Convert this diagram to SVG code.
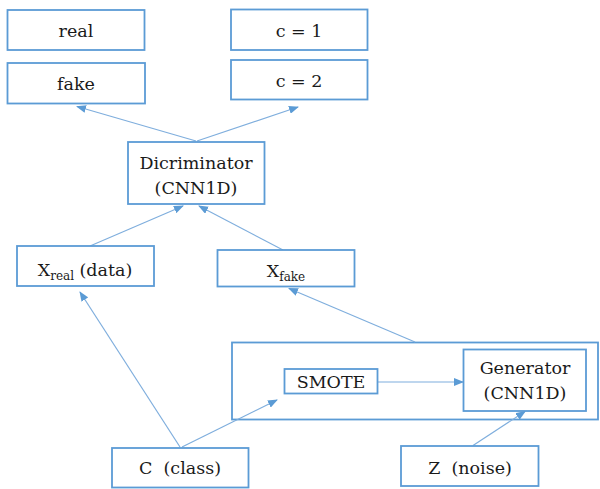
<svg xmlns="http://www.w3.org/2000/svg" width="600" height="489" viewBox="0 0 600 489">
<defs>
<style>
.box{fill:#fff;stroke:#5B9BD5;stroke-width:1.8}
.big{fill:none;stroke:#5B9BD5;stroke-width:1.8}
.t{font-family:'DejaVu Serif',serif;font-size:17.5px;fill:#1a1a1a;text-anchor:middle}
.sub{font-size:12px}
.c{stroke:#7FAEDD;stroke-width:1.2;fill:none;marker-end:url(#ah)}
</style>
<marker id="ah" markerUnits="userSpaceOnUse" markerWidth="10" markerHeight="8" refX="9" refY="4" orient="auto">
<path d="M0,0 L10,4 L0,8 Z" fill="#5B9BD5"/>
</marker>
</defs>
<rect width="600" height="489" fill="#fff"/>
<g id="big-box"><rect class="big" x="232" y="342.5" width="366" height="77"/></g>
<g id="connectors">
<line class="c" x1="196" y1="141" x2="77" y2="106.5"/>
<line class="c" x1="197" y1="141" x2="298" y2="107"/>
<line class="c" x1="90" y1="246" x2="183" y2="206"/>
<line class="c" x1="283" y1="250" x2="199" y2="206"/>
<line class="c" x1="415" y1="342" x2="289" y2="288.5"/>
<line class="c" x1="180" y1="447" x2="80" y2="292"/>
<line class="c" x1="182" y1="447" x2="277" y2="400"/>
<line class="c" x1="377.5" y1="382" x2="463" y2="382"/>
<line class="c" x1="473" y1="445.5" x2="525" y2="411.5"/>
</g>
<g id="real"><rect class="box" x="7.5" y="10" width="137" height="40"/><text class="t" x="76" y="37">real</text></g>
<g id="fake"><rect class="box" x="7.5" y="63" width="137.5" height="40.5"/><text class="t" x="76" y="90">fake</text></g>
<g id="c1"><rect class="box" x="231" y="9.5" width="136.5" height="40.5"/><text class="t" x="299" y="37">c = 1</text></g>
<g id="c2"><rect class="box" x="231" y="60" width="136.5" height="39.5"/><text class="t" x="299" y="87">c = 2</text></g>
<g id="disc"><rect class="box" x="128" y="142" width="136.5" height="62"/><text class="t" x="196" y="168.5">Dicriminator</text><text class="t" x="196" y="194">(CNN1D)</text></g>
<g id="xreal"><rect class="box" x="17" y="246" width="137" height="40"/><text class="t" x="85" y="276">X<tspan class="sub" dy="4">real</tspan><tspan dy="-4"> (data)</tspan></text></g>
<g id="xfake"><rect class="box" x="217.5" y="250" width="137" height="36.5"/><text class="t" x="286" y="276.5">X<tspan class="sub" dy="4">fake</tspan></text></g>
<g id="smote"><rect class="box" x="284.5" y="369" width="93" height="24.5"/><text class="t" x="331" y="388">SMOTE</text></g>
<g id="gen"><rect class="box" x="463.5" y="349.5" width="122.5" height="61.5"/><text class="t" x="525" y="374">Generator</text><text class="t" x="525" y="399">(CNN1D)</text></g>
<g id="cclass"><rect class="box" x="112" y="448" width="136.5" height="39.5"/><text class="t" x="180" y="474" xml:space="preserve">C  (class)</text></g>
<g id="znoise"><rect class="box" x="401" y="446" width="137.5" height="40"/><text class="t" x="470" y="474" xml:space="preserve">Z  (noise)</text></g>
</svg>
